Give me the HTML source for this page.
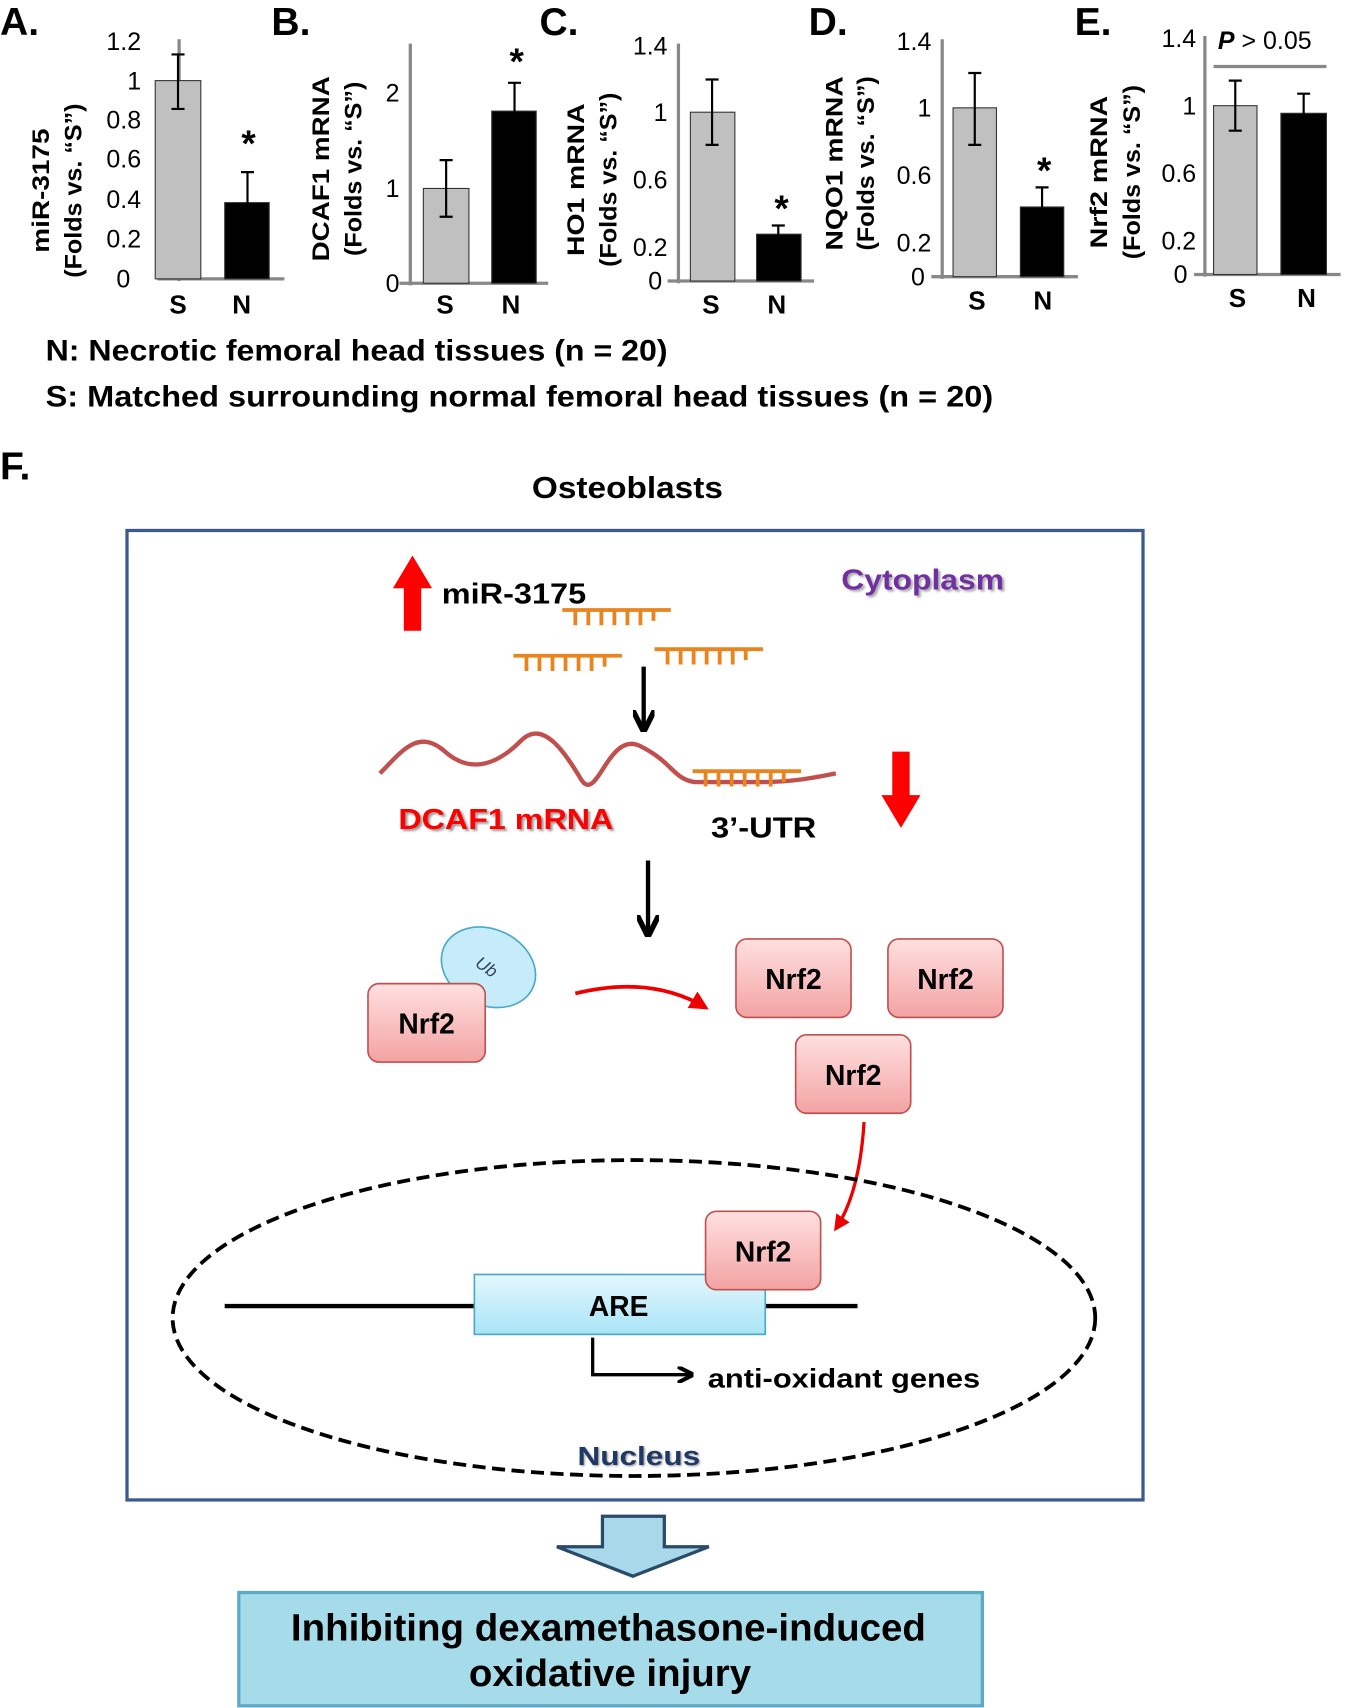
<!DOCTYPE html>
<html><head><meta charset="utf-8"><style>html,body{margin:0;padding:0;background:#fff}svg{display:block}text{font-family:"Liberation Sans",Arial,sans-serif}</style></head>
<body>
<svg width="1346" height="1708" viewBox="0 0 1240 1568" preserveAspectRatio="none" xmlns="http://www.w3.org/2000/svg">
<defs>
<linearGradient id="pk" x1="0" y1="0" x2="0" y2="1"><stop offset="0" stop-color="#ffe0e0"/><stop offset="1" stop-color="#f3a3a3"/></linearGradient>
<linearGradient id="bl" x1="0" y1="0" x2="0" y2="1"><stop offset="0" stop-color="#e4f7fd"/><stop offset="1" stop-color="#a8e4f6"/></linearGradient>
<marker id="rh" viewBox="0 0 10 10" refX="8" refY="5" markerWidth="5" markerHeight="5" orient="auto"><path d="M0,0L10,5L0,10z" fill="#e00"/></marker>
<marker id="kh" viewBox="0 0 10 10" refX="8" refY="5" markerWidth="5" markerHeight="5" orient="auto"><path d="M0,0L10,5L0,10" fill="none" stroke="#000" stroke-width="2.5"/></marker>
<g id="mir" stroke="#e9841f" stroke-width="3.5" fill="none"><path d="M0,0H100M12,0v14M24,0v14M36,0v14M48,0v14M60,0v14M72,0v14M84,0v10"/></g>
</defs>
<g font-weight="bold" font-size="36" fill="#000">
<text x="0" y="32">A.</text><text x="250" y="32">B.</text><text x="497" y="32">C.</text><text x="745" y="32">D.</text><text x="990" y="32">E.</text>
</g>
<g stroke="#888" stroke-width="3" fill="none">
<path d="M165,36V258M145,256H262"/><path d="M378,40V262M368,260H505"/><path d="M625,40V260M615,258H750"/><path d="M868,36V256M858,254H993"/><path d="M1110,33V254M1100,252H1235"/>
<path d="M1118,61H1222" stroke-width="3"/>
</g>
<g font-size="23" fill="#000" text-anchor="end">
<text x="130" y="46">1.2</text><text x="130" y="82">1</text><text x="130" y="118">0.8</text><text x="130" y="154">0.6</text><text x="130" y="191">0.4</text><text x="130" y="227">0.2</text><text x="120" y="264">0</text>
<text x="368" y="93">2</text><text x="368" y="181">1</text><text x="368" y="268">0</text>
<text x="615" y="50">1.4</text><text x="615" y="111">1</text><text x="615" y="173">0.6</text><text x="615" y="235">0.2</text><text x="610" y="266">0</text>
<text x="858" y="46">1.4</text><text x="858" y="107">1</text><text x="858" y="169">0.6</text><text x="858" y="231">0.2</text><text x="852" y="262">0</text>
<text x="1102" y="43">1.4</text><text x="1102" y="105">1</text><text x="1102" y="167">0.6</text><text x="1102" y="229">0.2</text><text x="1094" y="260">0</text>
</g>
<g stroke="#333" stroke-width="1">
<rect x="143" y="74" width="42" height="182" fill="#c0c0c0"/><rect x="207" y="186" width="41" height="70" fill="#000"/>
<rect x="390" y="173" width="42" height="87" fill="#c0c0c0"/><rect x="453" y="102" width="41" height="158" fill="#000"/>
<rect x="636" y="103" width="41" height="155" fill="#c0c0c0"/><rect x="697" y="215" width="41" height="43" fill="#000"/>
<rect x="878" y="99" width="40" height="155" fill="#c0c0c0"/><rect x="940" y="190" width="40" height="64" fill="#000"/>
<rect x="1118" y="97" width="40" height="155" fill="#c0c0c0"/><rect x="1180" y="104" width="42" height="148" fill="#000"/>
</g>
<g stroke="#000" stroke-width="2" fill="none">
<path d="M164,50V100M158,50H170M158,100H170"/><path d="M228,158V213M222,158H234M222,213H234"/>
<path d="M411,147V199M405,147H417M405,199H417"/><path d="M474,76V128M468,76H480M468,128H480"/>
<path d="M656,73V133M650,73H662M650,133H662"/><path d="M717,207V222M711,207H723M711,222H723"/>
<path d="M898,67V133M892,67H904M892,133H904"/><path d="M960,172V208M954,172H966M954,208H966"/>
<path d="M1138,74V120M1132,74H1144M1132,120H1144"/><path d="M1201,86V124M1195,86H1207M1195,124H1207"/>
</g>
<g font-size="34" font-weight="bold" text-anchor="middle"><text x="229" y="143">*</text><text x="476" y="68">*</text><text x="720" y="203">*</text><text x="962" y="168">*</text></g>
<text x="1122" y="45" font-size="23"><tspan font-weight="bold" font-style="italic">P</tspan> &gt; 0.05</text>
<g font-size="22" font-weight="bold" text-anchor="middle">
<text transform="translate(45,175) rotate(-90)" textLength="114" lengthAdjust="spacingAndGlyphs">miR-3175</text><text transform="translate(75,175) rotate(-90)" textLength="160" lengthAdjust="spacingAndGlyphs">(Folds vs. “S”)</text>
<text transform="translate(303,155) rotate(-90)" textLength="170" lengthAdjust="spacingAndGlyphs">DCAF1 mRNA</text><text transform="translate(333,155) rotate(-90)" textLength="160" lengthAdjust="spacingAndGlyphs">(Folds vs. “S”)</text>
<text transform="translate(538,165) rotate(-90)" textLength="140" lengthAdjust="spacingAndGlyphs">HO1 mRNA</text><text transform="translate(568,165) rotate(-90)" textLength="160" lengthAdjust="spacingAndGlyphs">(Folds vs. “S”)</text>
<text transform="translate(776,150) rotate(-90)" textLength="160" lengthAdjust="spacingAndGlyphs">NQO1 mRNA</text><text transform="translate(805,150) rotate(-90)" textLength="160" lengthAdjust="spacingAndGlyphs">(Folds vs. “S”)</text>
<text transform="translate(1020,158) rotate(-90)" textLength="140" lengthAdjust="spacingAndGlyphs">Nrf2 mRNA</text><text transform="translate(1050,158) rotate(-90)" textLength="160" lengthAdjust="spacingAndGlyphs">(Folds vs. “S”)</text>
</g>
<text x="156" y="288" font-size="24" font-weight="bold">S</text><text x="214" y="288" font-size="24" font-weight="bold">N</text>
<text x="402" y="288" font-size="24" font-weight="bold">S</text><text x="462" y="288" font-size="24" font-weight="bold">N</text>
<text x="647" y="288" font-size="24" font-weight="bold">S</text><text x="707" y="288" font-size="24" font-weight="bold">N</text>
<text x="892" y="284" font-size="24" font-weight="bold">S</text><text x="952" y="284" font-size="24" font-weight="bold">N</text>
<text x="1132" y="282" font-size="24" font-weight="bold">S</text><text x="1195" y="282" font-size="24" font-weight="bold">N</text>
<g font-size="27" font-weight="bold"><text x="42" y="331" textLength="573" lengthAdjust="spacingAndGlyphs">N: Necrotic femoral head tissues (n = 20)</text><text x="42" y="373" textLength="873" lengthAdjust="spacingAndGlyphs">S: Matched surrounding normal femoral head tissues  (n = 20)</text></g>
<text x="0" y="440" font-size="36" font-weight="bold">F.</text>
<text x="490" y="457" font-size="28" font-weight="bold" textLength="176" lengthAdjust="spacingAndGlyphs">Osteoblasts</text>
<rect x="117" y="487" width="936" height="890" fill="none" stroke="#3b5b8c" stroke-width="3"/>
<text x="775" y="541" font-size="26" font-weight="bold" fill="#7030a0" textLength="150" lengthAdjust="spacingAndGlyphs" style="text-shadow:2px 2px 2px #aaa">Cytoplasm</text>
<path d="M372,579V540H362L380,510L398,540H388V579Z" fill="#f00"/>
<text x="407" y="554" font-size="26" font-weight="bold" textLength="133" lengthAdjust="spacingAndGlyphs">miR-3175</text>
<use href="#mir" x="518" y="560"/><use href="#mir" x="473" y="602"/><use href="#mir" x="603" y="596"/>
<path d="M593,612V668" stroke="#000" stroke-width="4" marker-end="url(#kh)"/>
<path d="M350,710C370,690 385,668 410,690S460,700 480,680S520,690 535,715S560,670 590,685S620,715 640,718H700C730,718 750,714 770,710" fill="none" stroke="#c0504d" stroke-width="4"/>
<use href="#mir" x="638" y="708"/>
<text x="367" y="761" font-size="26" font-weight="bold" fill="#f00" textLength="198" lengthAdjust="spacingAndGlyphs" style="text-shadow:2px 2px 2px #999">DCAF1 mRNA</text>
<text x="655" y="769" font-size="26" font-weight="bold" textLength="97" lengthAdjust="spacingAndGlyphs">3’-UTR</text>
<path d="M822,690V730H812L830,760L848,730H838V690Z" fill="#f00"/>
<path d="M597,790V856" stroke="#000" stroke-width="4" marker-end="url(#kh)"/>
<ellipse cx="450" cy="888" rx="45" ry="35" transform="rotate(25 450 888)" fill="#c5ecf8" stroke="#4aa8c8" stroke-width="1.5"/>
<text x="448" y="893" font-size="16" font-style="italic" fill="#345" text-anchor="middle" transform="rotate(35 448 888)">Ub</text>
<g stroke="#c0504d" stroke-width="1.5" fill="url(#pk)">
<rect x="339" y="903" width="108" height="72" rx="10"/><rect x="678" y="862" width="106" height="72" rx="10"/><rect x="818" y="862" width="106" height="72" rx="10"/><rect x="733" y="950" width="106" height="72" rx="10"/>
</g>
<path d="M530,912Q600,895 650,925" fill="none" stroke="#e00" stroke-width="3.5" marker-end="url(#rh)"/>
<path d="M796,1030Q792,1095 770,1128" fill="none" stroke="#e00" stroke-width="3" marker-end="url(#rh)"/>
<ellipse cx="584" cy="1210" rx="425" ry="145" fill="none" stroke="#000" stroke-width="3.5" stroke-dasharray="12,6"/>
<path d="M207,1199H790" stroke="#000" stroke-width="4"/>
<rect x="437" y="1170" width="268" height="55" fill="url(#bl)" stroke="#4aa8c8" stroke-width="1.5"/>
<rect x="650" y="1112" width="106" height="72" rx="10" fill="url(#pk)" stroke="#c0504d" stroke-width="1.5"/>
<g font-size="26" font-weight="bold" text-anchor="middle">
<text x="393" y="949">Nrf2</text><text x="731" y="908">Nrf2</text><text x="871" y="908">Nrf2</text><text x="786" y="996">Nrf2</text><text x="703" y="1158">Nrf2</text>
<text x="570" y="1208">ARE</text>
</g>
<path d="M546,1228V1262H636" fill="none" stroke="#000" stroke-width="3" marker-end="url(#kh)"/>
<text x="652" y="1274" font-size="25" font-weight="bold" textLength="251" lengthAdjust="spacingAndGlyphs">anti-oxidant genes</text>
<text x="532" y="1345" font-size="24" font-weight="bold" fill="#1f3864" textLength="113" lengthAdjust="spacingAndGlyphs" style="text-shadow:1px 1px 2px #999">Nucleus</text>
<path d="M555,1392H612V1420H653L583,1447L513,1420H555Z" fill="#a9d8ea" stroke="#2a4a6a" stroke-width="3"/>
<rect x="220" y="1462" width="685" height="104" fill="#a6dbea" stroke="#5aaac8" stroke-width="3"/>
<g font-size="35" font-weight="bold"><text x="268" y="1506" textLength="585" lengthAdjust="spacingAndGlyphs">Inhibiting dexamethasone-induced</text><text x="432" y="1548" textLength="260" lengthAdjust="spacingAndGlyphs">oxidative injury</text></g>
</svg>
</body></html>
